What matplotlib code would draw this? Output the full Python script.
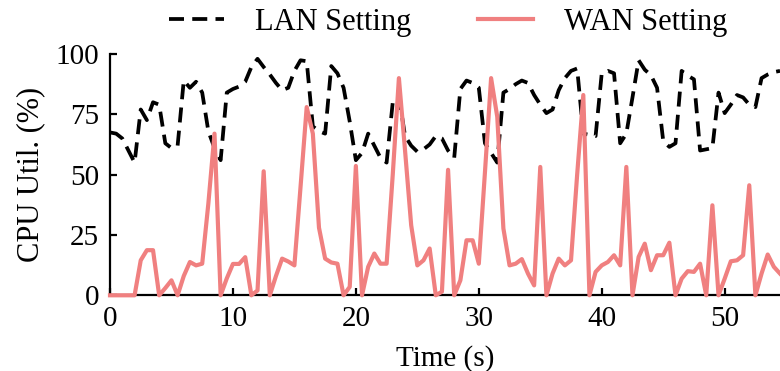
import matplotlib
matplotlib.use("Agg")
import matplotlib.pyplot as plt
import numpy as np

# CPU utilisation samples, one every 0.5 s
lan = [67.5, 67, 65, 60, 55, 77, 72.6, 80, 79, 63,
       61, 62, 89, 86, 88.5, 84, 68, 61, 56, 84,
       85.5, 86.5, 88.5, 94.6, 98, 94.6, 91.5, 88, 85, 86,
       93, 97.4, 97, 70, 68, 67, 95, 92, 86, 72,
       56, 59, 67, 62, 57, 55, 80, 82.5, 66, 62,
       59.5, 60.5, 62.5, 66, 65, 60, 57, 85.5, 89, 88,
       86, 63, 59, 55, 84, 85.5, 87.5, 89, 88, 83,
       79, 75.5, 77, 85, 90, 93, 94, 67, 66.5, 66,
       92, 93, 92, 63, 67, 82, 97.4, 93.5, 91.2, 86,
       64, 61.5, 63, 93, 91, 89.5, 60, 60.5, 61, 84,
       75.5, 79, 83, 82, 79, 78, 90, 91.5, 92.5, 93]
wan = [0, 0, 0, 0, 0, 14.5, 18.7, 18.7, 0, 3,
       6.2, 0, 8, 13.8, 12.4, 13.1, 38, 67, 0, 7,
       13, 13, 15.8, 0, 2, 51.4, 0, 8, 15.2, 14,
       12.4, 45, 78, 67, 28, 15.2, 13.6, 13.1, 0, 3.5,
       53.6, 0, 11.8, 17.3, 13.1, 13.1, 50, 90, 60, 29,
       12.4, 14.5, 19.4, 0, 1.5, 52, 0, 6.2, 22.8, 22.8,
       13.1, 51, 90, 74, 27.7, 12.4, 13.1, 15, 9, 4.1,
       53.2, 0, 9, 15.2, 12.4, 14.5, 50, 83, 0, 9.7,
       12.4, 13.8, 16.6, 12.4, 53.2, 0, 15.9, 21.4, 10.4, 16.6,
       16.6, 21.8, 0, 6.9, 10, 9.7, 13.1, 0, 37.3, 0,
       6.9, 14.1, 14.5, 16.6, 45.6, 0, 9, 16.9, 11.8, 9]
t = np.arange(len(lan)) * 0.5

plt.rcParams['font.family'] = ['Liberation Serif', 'DejaVu Serif']
plt.rcParams['font.size'] = 21

fig = plt.figure(figsize=(7.8, 3.71), dpi=100)
ax = fig.add_axes([110 / 780, (371 - 295.3) / 371, 670 / 780, 241.3 / 371])

ax.plot(t, lan, color='black', linestyle=(0, (4.0, 2.2)), linewidth=2.7,
        label='LAN Setting', zorder=3)
ax.plot(t, wan, color='lightcoral', linewidth=3.0, label='WAN Setting',
        clip_on=False, zorder=3)

ax.set_xlim(0, 54.5)
ax.set_ylim(0, 100)
ax.set_xticks([0, 10, 20, 30, 40, 50])
ax.set_yticks([0, 25, 50, 75, 100])
ax.set_xlabel('Time (s)', labelpad=9)
ax.set_ylabel('CPU Util. (%)', fontsize=22, labelpad=7)

ax.spines['top'].set_visible(False)
ax.spines['right'].set_visible(False)
for s in ['left', 'bottom']:
    ax.spines[s].set_linewidth(1.6)
ax.tick_params(direction='in', length=5, width=1.6, pad=8)

ax.legend(loc='lower center', bbox_to_anchor=(0.505, 1.02), ncol=2, frameon=False,
          fontsize=22, handlelength=1.8, handletextpad=1.0, columnspacing=2.2,
          borderaxespad=0)

fig.savefig('out.png', dpi=100)
